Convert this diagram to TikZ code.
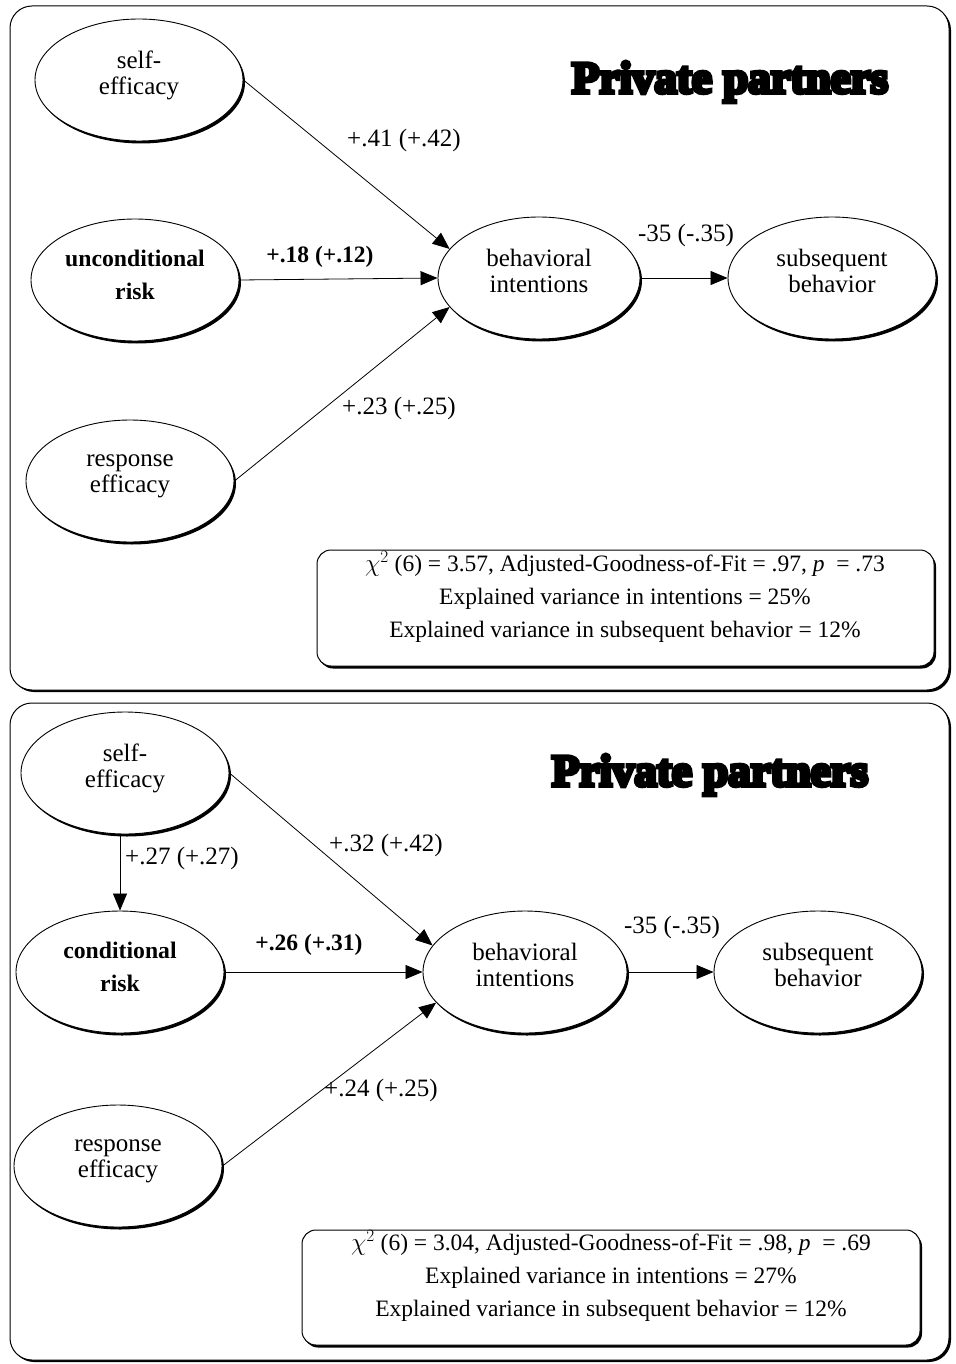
\documentclass[tikz,border=0pt]{standalone}
\usepackage{fontspec}
\setmainfont{Liberation Serif}
\newfontfamily\titlefont{Liberation Serif Bold}[FakeBold=9]
\usetikzlibrary{shapes.geometric,arrows.meta,shadows}
\newcommand\ellipselift[1][-12pt]{\\[#1]\mbox{}}
\begin{document}
\begin{tikzpicture}[x=1pt,y=-1pt,
  panel/.style={draw, line width=1pt, fill=white, rounded corners=22pt,
    drop shadow={opacity=1, fill=black, shadow xshift=2pt, shadow yshift=-2pt}},
  statbox/.style={draw, line width=1pt, fill=white, rounded corners=14pt,
    drop shadow={opacity=1, fill=black, shadow xshift=2pt, shadow yshift=-2.5pt}},
  lat/.style={ellipse, draw, line width=0.9pt, fill=white, inner sep=0pt,
    minimum width=208pt, minimum height=122pt, align=center,
    font=\fontsize{25}{26}\selectfont,
    drop shadow={opacity=1, fill=black, shadow xshift=2pt, shadow yshift=-2.5pt}},
  boldlat/.style={lat, font=\fontsize{23.7}{33}\selectfont\bfseries},
  conn/.style={-{Triangle[length=17pt,width=14pt]}, line width=0.8pt},
  elab/.style={font=\fontsize{25}{26}\selectfont, inner sep=0pt},
  belab/.style={font=\fontsize{23.5}{26}\selectfont\bfseries, inner sep=0pt},
  title/.style={font=\fontsize{45}{48}\selectfont\titlefont, inner sep=0pt},
  stattext/.style={font=\fontsize{23.5}{33}\selectfont, align=center, inner sep=0pt}
]
\useasboundingbox (0,0) rectangle (955,1364);

% ---------------- top panel ----------------
\path[panel] (10,6) rectangle (949,690);
\node[title] (t1) at (730,82) {Private partners};

\node[lat] (se1) at (139,80) {self-\\efficacy\ellipselift};
\node[boldlat] (ur1) at (135,280) {unconditional\\risk\ellipselift[-23pt]};
\node[lat] (re1) at (130,481) {response\\efficacy\ellipselift};
\node[lat, minimum width=202pt] (bi1) at (539,278) {behavioral\\intentions\ellipselift};
\node[lat] (sb1) at (832,278) {subsequent\\behavior\ellipselift};

\draw[conn] (se1.east) -- (bi1.162);
\draw[conn] (ur1.east) -- (bi1.west);
\draw[conn] (re1.east) -- (bi1.198);
\draw[conn] (bi1.east) -- (sb1.west);

\node[elab] (l11) at (404,140) {+.41 (+.42)};
\node[belab] (l12) at (320,257) {+.18 (+.12)};
\node[elab] (l13) at (399,408) {+.23 (+.25)};
\node[elab] (l14) at (686,235) {-35 (-.35)};

\path[statbox] (317,550) rectangle (934,666);
\node[stattext] (s1) at (625,597) {$\chi^2$ (6) = 3.57, Adjusted-Goodness-of-Fit = .97, \textit{p}~ = .73\\
Explained variance in intentions = 25\%\\
Explained variance in subsequent behavior = 12\%};

% ---------------- bottom panel ----------------
\path[panel] (10,703) rectangle (949,1360);
\node[title] (t2) at (710,775) {Private partners};

\node[lat] (se2) at (125,773) {self-\\efficacy\ellipselift};
\node[boldlat] (cr2) at (120,972) {conditional\\risk\ellipselift[-23pt]};
\node[lat] (re2) at (118,1166) {response\\efficacy\ellipselift};
\node[lat, minimum width=204pt] (bi2) at (525,972) {behavioral\\intentions\ellipselift};
\node[lat] (sb2) at (818,972) {subsequent\\behavior\ellipselift};

\draw[conn] (se2.south -| cr2.north) -- (cr2.north);
\draw[conn] (se2.east) -- (bi2.164);
\draw[conn] (cr2.east) -- (bi2.west);
\draw[conn] (re2.east) -- (bi2.199);
\draw[conn] (bi2.east) -- (sb2.west);

\node[elab] (l21) at (182,858) {+.27 (+.27)};
\node[elab] (l22) at (386,845) {+.32 (+.42)};
\node[belab] (l23) at (309,945) {+.26 (+.31)};
\node[elab] (l24) at (381,1090) {+.24 (+.25)};
\node[elab] (l25) at (672,927) {-35 (-.35)};

\path[statbox] (302,1230) rectangle (920,1345);
\node[stattext] (s2) at (611,1276) {$\chi^2$ (6) = 3.04, Adjusted-Goodness-of-Fit = .98, \textit{p}~ = .69\\
Explained variance in intentions = 27\%\\
Explained variance in subsequent behavior = 12\%};
\end{tikzpicture}
\end{document}
